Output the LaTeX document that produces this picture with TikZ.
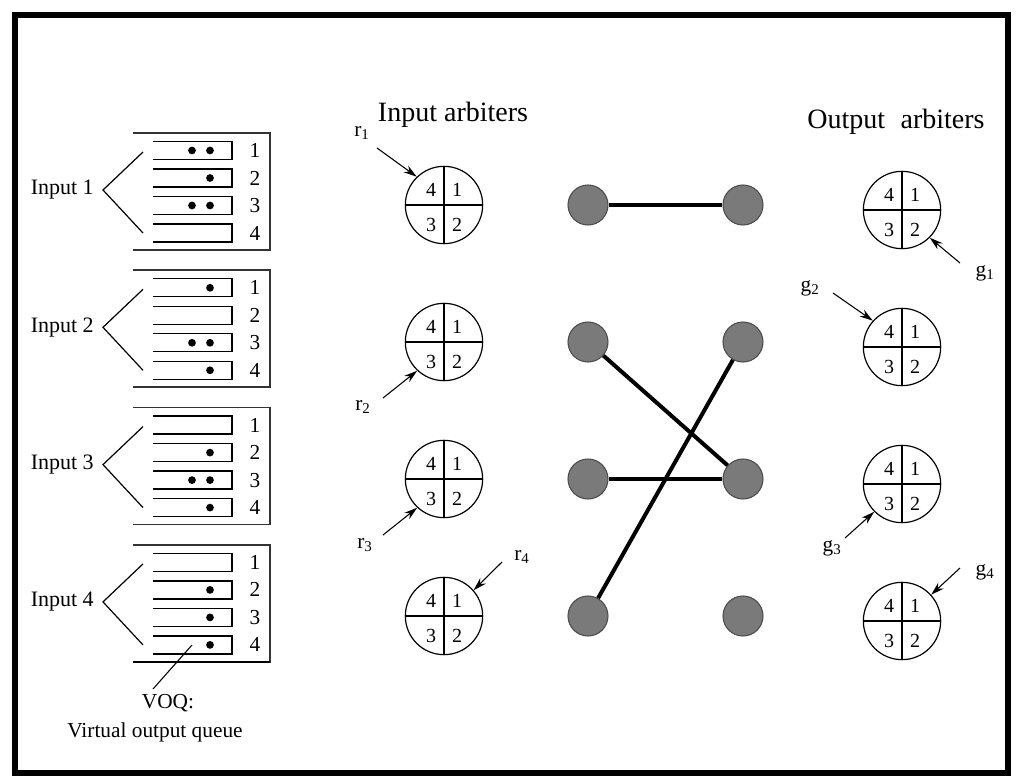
\documentclass[tikz,border=0pt]{standalone}
\usepackage{fontspec}
\setmainfont{Liberation Serif}
\usetikzlibrary{calc,arrows.meta}
\begin{document}
\begin{tikzpicture}[x=0.75pt,y=-0.75pt,
  arb/.style={circle,draw,line width=0.9pt,minimum size=58pt,inner sep=0pt},
  dig/.style={font=\fontsize{15}{15}\selectfont,inner sep=0pt},
  qnum/.style={font=\fontsize{16}{16}\selectfont,inner sep=0pt},
  sw/.style={circle,fill=black!52,draw=black!70,line width=0.8pt,minimum size=30pt,inner sep=0pt},
  conn/.style={line width=3pt},
  arr/.style={line width=0.8pt,-{Stealth[length=10pt,width=6pt]}},
  lbl/.style={font=\fontsize{16}{16}\selectfont,inner sep=0pt},
  inlbl/.style={font=\fontsize{16.5}{18}\selectfont,inner sep=0pt,anchor=east},
  qline/.style={line width=1pt},
  frameline/.style={line width=1.3pt,black!80},
  ttl/.style={font=\fontsize{21}{25}\selectfont,inner sep=0pt},
  voqtxt/.style={font=\fontsize{16}{18}\selectfont,inner sep=0pt}
]
\useasboundingbox (0,0) rectangle (1024,784);
\draw[line width=5pt] (15,15) rectangle (1008,773);

% ---------- VOQ groups ----------
\foreach \i in {1,...,4} {
  \pgfmathsetmacro\yc{190+137.3*(\i-1)}
  \node[inlbl] (in\i) at (94,\yc) {Input \i};
  \coordinate (bu\i) at (143,\yc-38);
  \coordinate (bv\i) at (103,\yc);
  \coordinate (bl\i) at (143,\yc+43);
  \draw[line width=0.9pt] (bu\i) -- (bv\i) -- (bl\i);
  \draw[frameline] (133,\yc-57) -- (270,\yc-57) -- (270,\yc+60) -- (133,\yc+60);
  \foreach \k/\off in {1/-39.5,2/-12,3/15.5,4/43} {
    \draw[qline] (153,\yc+\off-9) -- (232,\yc+\off-9) -- (232,\yc+\off+9) -- (153,\yc+\off+9);
    \node[qnum] (q\i\k) at (255,\yc+\off) {\k};
  }
}
\draw[line width=2pt] (133,661.9) -- (270,661.9);

% dots
\foreach \x/\y in {192/150.5,210/150.5,210/178,192/205.5,210/205.5,
                   210/287.8,192/342.8,210/342.8,210/370.3,
                   210/452.6,192/480.1,210/480.1,210/507.6,
                   210/589.9,210/617.4,210/644.9}
  \fill (\x,\y) circle (2.9pt);

% VOQ label
\node[voqtxt] (voq) at (168,703) {VOQ:};
\node[voqtxt] (voqfull) at (155,732) {Virtual output queue};
\coordinate (voqend) at (192,645);
\draw[line width=0.8pt] (153,689) -- (voqend);

% ---------- titles ----------
\node[ttl] (tin) at (453,115) {Input arbiters};
\node[ttl] (tout) at (896,122) {Output\hspace{0.3em} arbiters};

% ---------- arbiters ----------
\foreach \i/\y in {1/205,2/342,3/479,4/616} {
  \node[arb] (ia\i) at (444,\y) {};
  \node[arb] (oa\i) at (902,\y+5) {};
}
\foreach \n in {ia1,ia2,ia3,ia4,oa1,oa2,oa3,oa4} {
  \draw[line width=0.9pt] (\n.north) -- (\n.south);
  \draw[line width=0.9pt] (\n.west) -- (\n.east);
  \node[dig] (\n-4) at ($(\n)+(-13,-15)$) {4};
  \node[dig] (\n-1) at ($(\n)+(13,-15)$) {1};
  \node[dig] (\n-3) at ($(\n)+(-13,20)$) {3};
  \node[dig] (\n-2) at ($(\n)+(13,20)$) {2};
}

% ---------- request / grant arrows ----------
\node[lbl] (r1) at (362,133) {r\textsubscript{1}};
\coordinate (r1s) at (377,148);
\draw[arr] (r1s) -- (ia1.134);
\node[lbl] (r2) at (363,407) {r\textsubscript{2}};
\coordinate (r2s) at (383,398);
\draw[arr] (r2s) -- (ia2.227);
\node[lbl] (r3) at (365,545) {r\textsubscript{3}};
\coordinate (r3s) at (383,535);
\draw[arr] (r3s) -- (ia3.227);
\node[lbl] (r4) at (522,557) {r\textsubscript{4}};
\coordinate (r4s) at (502,562);
\draw[arr] (r4s) -- (ia4.41);

\node[lbl] (g1) at (985,273) {g\textsubscript{1}};
\coordinate (g1s) at (960,263);
\draw[arr] (g1s) -- (oa1.315);
\node[lbl] (g2) at (810,288) {g\textsubscript{2}};
\coordinate (g2s) at (833,293);
\draw[arr] (g2s) -- (oa2.138);
\node[lbl] (g3) at (832,548) {g\textsubscript{3}};
\coordinate (g3s) at (845,538);
\draw[arr] (g3s) -- (oa3.225);
\node[lbl] (g4) at (985,572) {g\textsubscript{4}};
\coordinate (g4s) at (960,568);
\draw[arr] (g4s) -- (oa4.42);

% ---------- crossbar ----------
\foreach \i/\y in {1/205,2/342,3/479,4/616} {
  \node[sw] (L\i) at (588,\y) {};
  \node[sw] (R\i) at (743,\y) {};
}
\draw[conn] (L1) -- (R1);
\draw[conn] (L2) -- (R3);
\draw[conn] (L3.east) -- (R3.west);
\draw[conn] (L4) -- (R2);
\end{tikzpicture}
\end{document}
